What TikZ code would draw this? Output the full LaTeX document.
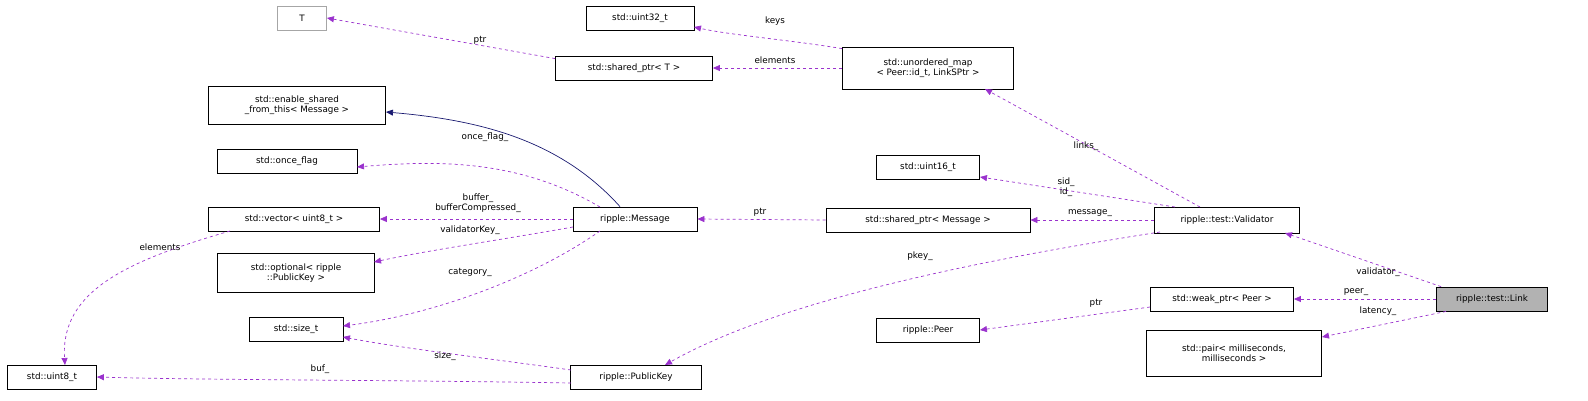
\documentclass[tikz,border=0pt]{standalone}
\usepackage{fontspec}
\setmainfont{DejaVu Sans}
\usetikzlibrary{arrows.meta}
\definecolor{dpurple}{HTML}{9A32CD}
\definecolor{dnavy}{HTML}{191970}
\newcommand{\lt}{\textless}
\newcommand{\gt}{\textgreater}
\begin{document}
\begin{tikzpicture}[x=1pt,y=-1pt,
  box/.style={draw=black,fill=white,font=\fontsize{8.8}{10.5}\selectfont,inner sep=0pt,minimum height=24pt,align=center,line width=0.8pt},
  rel/.style={draw=dpurple,dashed,line width=0.7pt,-{Triangle[length=7pt,width=6pt]}},
  inh/.style={draw=dnavy,line width=0.7pt,-{Triangle[length=7pt,width=6pt]}},
  lbl/.style={font=\fontsize{8.8}{10.5}\selectfont,align=center,inner sep=1pt}]
\useasboundingbox (0,0) rectangle (1588,400);
\node[box,fill=black!30,minimum width=111pt] (link) at (1492,299) {ripple::test::Link};
\node[box,minimum width=143pt] (weak) at (1222,299) {std::weak\_ptr\lt{} Peer \gt};
\node[box,minimum width=175pt,minimum height=46pt] (pair) at (1234,353) {std::pair\lt{} milliseconds,\\milliseconds \gt};
\node[box,minimum width=145pt,minimum height=26pt] (val) at (1227,220) {ripple::test::Validator};
\node[box,minimum width=103pt] (peer) at (928,330) {ripple::Peer};
\node[box,minimum width=204pt] (spm) at (928,220) {std::shared\_ptr\lt{} Message \gt};
\node[box,minimum width=103pt] (u16) at (928,167) {std::uint16\_t};
\node[box,minimum width=171pt,minimum height=42pt] (umap) at (928,68) {std::unordered\_map\\\lt{} Peer::id\_t, LinkSPtr \gt};
\node[box,minimum width=108pt] (u32) at (640,18) {std::uint32\_t};
\node[box,minimum width=157pt] (spt) at (634,68) {std::shared\_ptr\lt{} T \gt};
\node[box,draw=black!35,minimum width=49pt] (T) at (302,18) {T};
\node[box,minimum width=177pt,minimum height=38pt] (esft) at (297,105) {std::enable\_shared\\\_from\_this\lt{} Message \gt};
\node[box,minimum width=140pt] (once) at (287,161) {std::once\_flag};
\node[box,minimum width=171pt] (vec) at (294,219) {std::vector\lt{} uint8\_t \gt};
\node[box,minimum width=157pt,minimum height=39pt] (opt) at (296,273) {std::optional\lt{} ripple\\::PublicKey \gt};
\node[box,minimum width=94pt] (size) at (296,329) {std::size\_t};
\node[box,minimum width=89pt] (u8) at (52,377) {std::uint8\_t};
\node[box,minimum width=124pt] (msg) at (635,219) {ripple::Message};
\node[box,minimum width=131pt] (pk) at (636,377) {ripple::PublicKey};

\draw[rel] (link.north west) ++(5,0) -- (1285,233);
\node[lbl] at (1378,272) {validator\_};
\draw[rel] (link.west) -- (weak.east);
\node[lbl] at (1356,292) {peer\_};
\draw[rel] (link.south west) ++(10,0) -- (1322,337);
\node[lbl] at (1378,311) {latency\_};
\draw[rel] (weak.west) ++(0,8) -- (peer.east);
\node[lbl] at (1096,303) {ptr};
\draw[rel] (1200,207) -- (985,89);
\node[lbl] at (1086,146) {links\_};
\draw[rel] (1175,207) -- (980,177);
\node[lbl] at (1066,187) {sid\_\\id\_};
\draw[rel] (val.west) -- (spm.east);
\node[lbl] at (1090,213) {message\_};
\draw[rel] (1160,232) .. controls (980,260) and (780,300) .. (665,365);
\node[lbl] at (920,256) {pkey\_};
\draw[rel] (spm.west) -- (msg.east);
\node[lbl] at (760,212) {ptr};
\draw[rel] (umap.north west) ++(0,2) .. controls (790,40) and (730,35) .. (694,27);
\node[lbl] at (775,21) {keys};
\draw[rel] (umap.west) -- (spt.east);
\node[lbl] at (775,60) {elements};
\draw[rel] (spt.north west) ++(0,3) -- (T.east);
\node[lbl] at (480,40) {ptr};
\draw[inh] (msg.north) ++(-15,0) .. controls (560,140) and (480,120) .. (386,112);
\draw[rel] (600,207) .. controls (520,160) and (440,160) .. (357,167);
\node[lbl] at (485,137) {once\_flag\_};
\draw[rel] (msg.west) -- (vec.east);
\node[lbl] at (478,203) {buffer\_\\bufferCompressed\_};
\draw[rel] (573,227) .. controls (500,240) and (430,250) .. (374,262);
\node[lbl] at (470,230) {validatorKey\_};
\draw[rel] (600,231) .. controls (530,280) and (430,315) .. (343,326);
\node[lbl] at (470,272) {category\_};
\draw[rel] (230,231) .. controls (130,260) and (60,290) .. (65,365);
\node[lbl] at (160,247) {elements};
\draw[rel] (571,370) .. controls (500,360) and (400,348) .. (343,337);
\node[lbl] at (445,356) {size\_};
\draw[rel] (571,383) .. controls (400,380) and (200,380) .. (u8.east);
\node[lbl] at (320,369) {buf\_};
\end{tikzpicture}
\end{document}
